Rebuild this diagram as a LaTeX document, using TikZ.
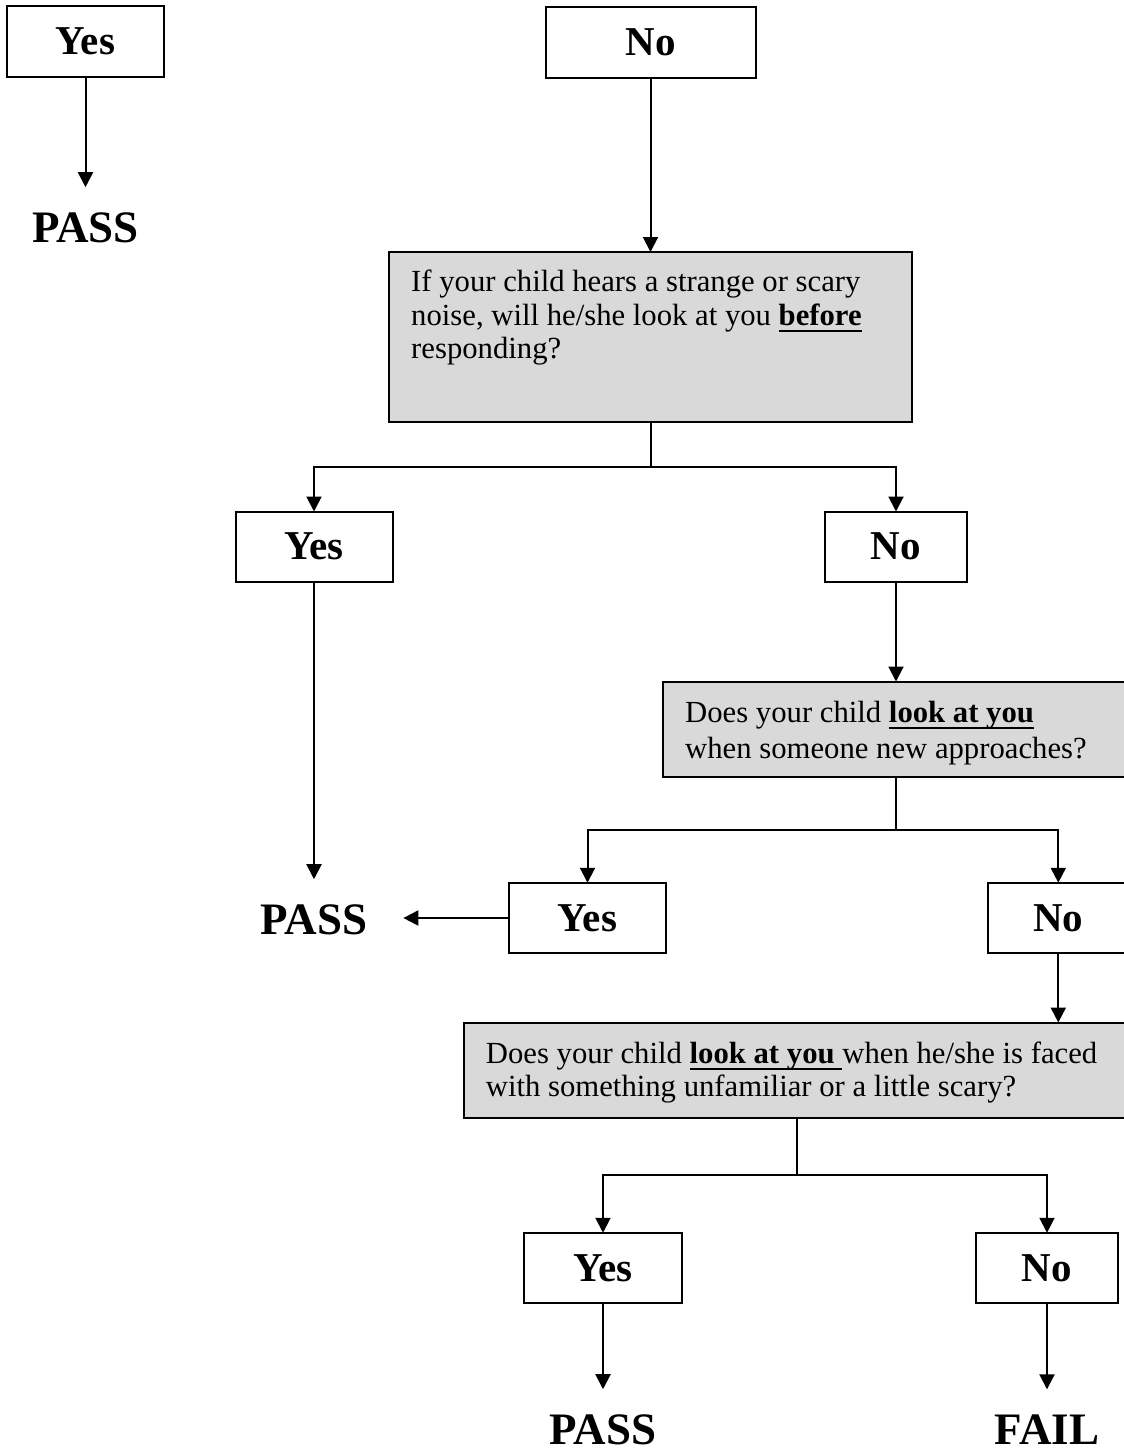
\documentclass[tikz,border=0pt]{standalone}
\usepackage{fontspec}
\setmainfont{Liberation Serif}
\usetikzlibrary{arrows.meta,calc}
\definecolor{qgray}{RGB}{217,217,217}
\newcommand\myul[1]{\setbox0\hbox{#1}\rlap{\rule[-6.5pt]{\wd0}{2pt}}\box0}
\tikzset{
  ln/.style={line width=2pt},
  arr/.style={line width=2pt,-{Triangle[width=15pt,length=15pt]}},
  ansbox/.style={draw,line width=2pt,inner sep=0pt,outer sep=0pt,
    font=\fontsize{41}{45}\selectfont\bfseries},
  qbox/.style={draw,line width=2pt,fill=qgray,inner sep=0pt,outer sep=0pt},
  result/.style={inner xsep=36pt,inner ysep=25pt,outer sep=0pt,anchor=base,
    font=\fontsize{45}{50}\selectfont\bfseries},
  qtext/.style={inner sep=0pt,anchor=base west}
}
\begin{document}
\begin{tikzpicture}[x=1pt,y=-1pt]
\useasboundingbox (0,0) rectangle (1124,1452);

% top row
\node[ansbox,minimum width=157pt,minimum height=71pt] (yes0) at (85.5,41.5) {Yes};
\node[result] (pass0) at (85.5,242) {PASS};
\node[ansbox,minimum width=210pt,minimum height=71pt] (no0) at (650.5,42) {No};

% question 1
\node[qbox,minimum width=523pt,minimum height=170pt] (q1) at (650.5,337) {};
\node[qtext] (q1t) at (411,291.7) {\fontsize{30.7}{33.4}\selectfont\parbox[t]{520pt}{\raggedright
If your child hears a strange or scary\\
noise, will he/she look at you \myul{\textbf{before}}\\
responding?}};

\node[ansbox,minimum width=157pt,minimum height=70pt] (yes1) at (314,546.5) {Yes};
\node[ansbox,minimum width=142pt,minimum height=70pt] (no1) at (896,546.5) {No};
\node[result] (pass1) at (314,934) {PASS};

% question 2
\node[qbox,minimum width=467pt,minimum height=95.5pt] (q2) at (896.5,729.25) {};
\node[qtext] (q2t) at (685,722.3) {\fontsize{30.7}{36}\selectfont\parbox[t]{520pt}{\raggedright
Does your child \myul{\textbf{look at you}}\\
when someone new approaches?}};

\node[ansbox,minimum width=157pt,minimum height=70.5pt] (yes2) at (587.5,918) {Yes};
\node[ansbox,minimum width=141pt,minimum height=70.5pt] (no2) at (1058.3,918) {No};

% question 3
\node[qbox,minimum width=666pt,minimum height=95.5pt] (q3) at (797,1070.25) {};
\node[qtext] (q3t) at (485.7,1063) {\fontsize{30.7}{33.7}\selectfont\parbox[t]{640pt}{\raggedright
Does your child \myul{\textbf{look at you }}when he/she is faced\\
with something unfamiliar or a little scary?}};

\node[ansbox,minimum width=158pt,minimum height=70.5pt] (yes3) at (603,1268) {Yes};
\node[ansbox,minimum width=142pt,minimum height=70.5pt] (no3) at (1047,1268) {No};
\node[result] (pass2) at (603,1444) {PASS};
\node[result] (fail) at (1047,1444) {FAIL};

% connectors
\draw[arr] (yes0.south) -- (pass0.north);
\draw[arr] (no0.south) -- (no0.south |- q1.north);

\coordinate (b1) at (650.5,466.7);
\draw[ln] (q1.south) -- (b1);
\draw[arr] (b1) -| (yes1.north);
\draw[arr] (b1) -| (no1.north);

\draw[arr] (yes1.south) -- (pass1.north);
\draw[arr] (no1.south) -- (no1.south |- q2.north);

\coordinate (b2) at (896,830);
\draw[ln] (q2.south -| b2) -- (b2);
\draw[arr] (b2) -| (yes2.north);
\draw[arr] (b2) -| (no2.north);

\draw[arr] (yes2.west) -- (yes2.west -| pass1.east);
\draw[arr] (no2.south) -- (no2.south |- q3.north);

\coordinate (b3) at (797,1175);
\draw[ln] (q3.south) -- (b3);
\draw[arr] (b3) -| (yes3.north);
\draw[arr] (b3) -| (no3.north);

\draw[arr] (yes3.south) -- (pass2.north);
\draw[arr] (no3.south) -- (fail.north);
\end{tikzpicture}
\end{document}
